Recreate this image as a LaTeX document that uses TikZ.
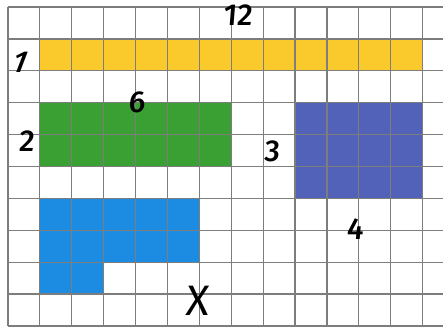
\documentclass[tikz,border=0pt]{standalone}
\usepackage{fontspec}
\setmainfont{Fira Sans Medium}
\usetikzlibrary{positioning}

\definecolor{barYellow}{RGB}{250,202,44}
\definecolor{barGreen}{RGB}{58,160,52}
\definecolor{barSlate}{RGB}{82,98,184}
\definecolor{barSky}{RGB}{28,140,226}
\definecolor{gridGray}{RGB}{125,125,125}

\begin{document}
\begin{tikzpicture}[
  gridline/.style={draw=gridGray, line width=1.1pt},
  digit/.style={font=\fontsize{27}{27}\selectfont, inner sep=0pt, xslant=0.08}
]

\useasboundingbox (-0.25,-0.06) rectangle (13.64,10.22);

% coloured blocks
\fill[barYellow] (1,8) rectangle (13,9);
\fill[barGreen] (1,5) rectangle (7,7);
\fill[barSlate] (9,4) rectangle (13,7);
\fill[barSky] (1,4) -- (6,4) -- (6,2) -- (3,2) -- (3,1) -- (1,1) -- cycle;

% squared paper
\foreach \col in {0,...,13}
  \draw[gridline] (\col,0) -- (\col,10);
\foreach \row in {0,...,10}
  \draw[gridline] (0,\row) -- (13.64,\row);

% hand written labels
\node[digit] (lblTwelve) at (7.22,9.75) {12};
\node[digit, xslant=0.3] (lblOne) at (0.38,8.28) {1};
\node[digit] (lblSix) at (4.05,7.0) {6};
\node[digit] (lblTwo) at (0.6,5.81) {2};
\node[digit] (lblThree) at (8.29,5.47) {3};
\node[digit] (lblFour) at (10.9,3.03) {4};
\node[digit, font=\fontsize{38}{38}\selectfont\fontspec{Fira Sans}] (lblCross) at (5.97,0.78) {X};

\end{tikzpicture}
\end{document}
